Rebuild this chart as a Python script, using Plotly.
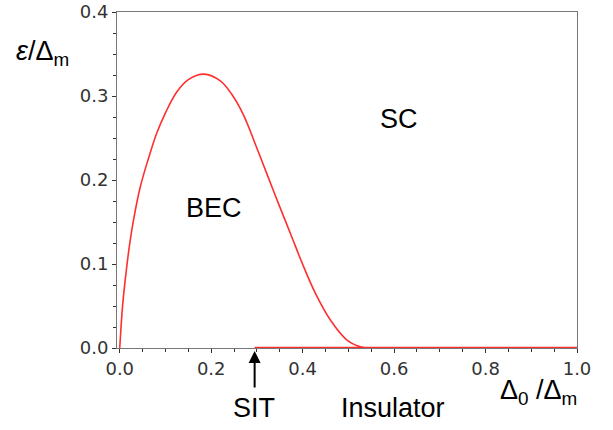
import plotly.graph_objects as go

# Phase boundary (BEC / SC)
bec_x = [0, 0.006, 0.012, 0.021, 0.030, 0.045, 0.063, 0.081, 0.100, 0.125, 0.150, 0.184,
         0.220, 0.245, 0.271, 0.297, 0.322, 0.350, 0.375, 0.399, 0.428, 0.461, 0.497, 0.530, 0.560]
bec_y = [0, 0.049, 0.081, 0.121, 0.152, 0.192, 0.226, 0.256, 0.280, 0.305, 0.3195, 0.326,
         0.318, 0.302, 0.277, 0.242, 0.207, 0.168, 0.134, 0.101, 0.065, 0.033, 0.0095, 0.001, 0]

# Insulator segment on the axis
ins_x = [0.295, 1.0]
ins_y = [0, 0]

sit_x = 0.295

x_ticks = [0.0, 0.2, 0.4, 0.6, 0.8, 1.0]
y_ticks = [0.0, 0.1, 0.2, 0.3, 0.4]

RED = "#ff2f2f"
TXT = "Liberation Sans, Arial, Helvetica, sans-serif"

fig = go.Figure()
fig.add_trace(go.Scatter(x=bec_x, y=bec_y, mode="lines",
                         line=dict(color=RED, width=1.6, shape="spline", smoothing=1.0),
                         cliponaxis=False, showlegend=False, hoverinfo="skip"))
fig.add_trace(go.Scatter(x=ins_x, y=ins_y, mode="lines",
                         line=dict(color=RED, width=2.6),
                         cliponaxis=False, showlegend=False, hoverinfo="skip"))

axis_common = dict(showgrid=False, zeroline=False, showline=True, mirror=True,
                   linecolor="#777777", linewidth=1, ticks="outside", ticklen=4,
                   tickcolor="#333333", tickwidth=1, automargin=False,
                   tickfont=dict(family="DejaVu Sans", size=18, color="#333333"))

fig.update_xaxes(range=[-0.006, 1.0], tickvals=x_ticks,
                 ticktext=[f"{v:.1f}" for v in x_ticks],
                 minor=dict(dtick=0.05, ticks="outside", ticklen=3, tickcolor="#333333"),
                 **axis_common)
fig.update_yaxes(range=[0, 0.4], tickvals=y_ticks,
                 ticktext=[f"{v:.1f}" for v in y_ticks],
                 minor=dict(dtick=0.025, ticks="outside", ticklen=3, tickcolor="#333333"),
                 **axis_common)

ann = []
ann.append(dict(x=sit_x, y=-0.009, xref="x", yref="paper", text="", showarrow=True,
                ax=0, ay=38, arrowhead=2, arrowsize=1.2, arrowwidth=2, arrowcolor="black"))
texts = [
    ("SIT", 0.298, -0.179),
    ("Insulator", 0.6, -0.179),
    ("Δ<sub>0</sub> /Δ<sub>m</sub>", 0.917, -0.131),
    ("BEC", 0.211, 0.418),
    ("SC", 0.613, 0.681),
    ("<i>ε</i>/Δ<sub>m</sub>", -0.161, 0.878),
]
for t, px, py in texts:
    ann.append(dict(x=px, y=py, xref="paper", yref="paper", text=t, showarrow=False,
                    xanchor="center", yanchor="middle",
                    font=dict(family=TXT, size=27, color="black")))

fig.update_layout(width=613, height=430, margin=dict(l=117, r=36, t=12, b=82, autoexpand=False),
                  paper_bgcolor="white", plot_bgcolor="white", annotations=ann)

fig.write_html("out.html", config={"displayModeBar": False},
               post_script="document.body.style.margin='0';")
